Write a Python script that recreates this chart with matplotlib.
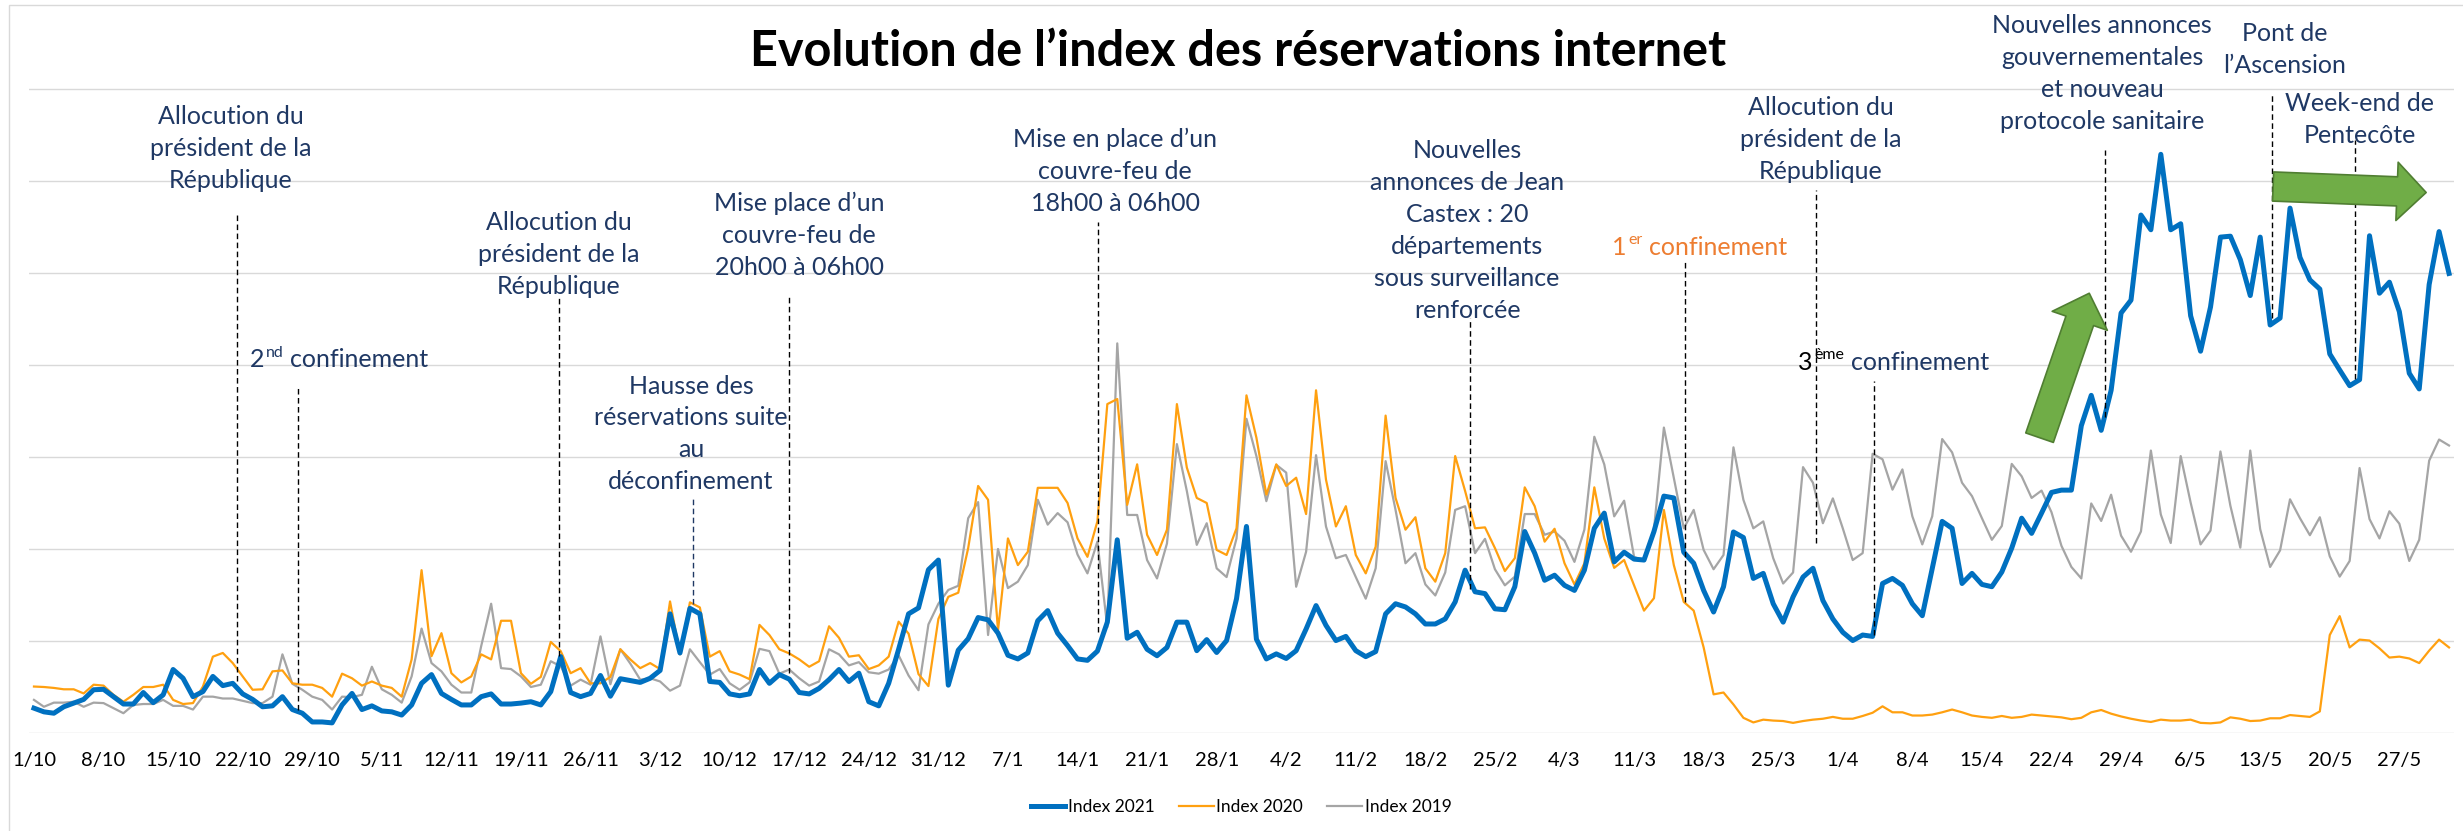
import matplotlib
matplotlib.use("Agg")
import matplotlib.pyplot as plt
from matplotlib.patches import FancyArrowPatch, ArrowStyle, Rectangle
from matplotlib.lines import Line2D
import numpy as np
import pandas as pd

plt.rcParams["font.family"] = ["Lato", "DejaVu Sans"]

START = "2020-10-01"

# daily index values (1/10 -> 1/6)
index_2021 = [
    5.4, 4.6, 4.3, 5.7, 6.5, 7.3, 9.4, 9.5, 7.9, 6.3,
    6.3, 8.8, 6.6, 8.3, 13.8, 11.9, 7.9, 9.0, 12.3, 10.3,
    10.8, 8.5, 7.3, 5.7, 5.9, 7.9, 5.1, 4.3, 2.4, 2.4,
    2.2, 6.1, 8.6, 5.1, 5.9, 4.8, 4.6, 3.9, 6.1, 10.8,
    12.7, 8.6, 7.3, 6.1, 6.1, 7.9, 8.5, 6.3, 6.3, 6.5,
    6.8, 6.1, 9.0, 16.6, 8.8, 7.9, 8.6, 12.5, 8.0, 11.8,
    11.4, 11.0, 11.9, 13.6, 25.9, 17.4, 27.1, 25.9, 11.2, 11.0,
    8.5, 8.1, 8.5, 13.8, 10.8, 12.7, 11.7, 8.8, 8.5, 9.7,
    11.6, 13.8, 11.2, 13.0, 6.8, 5.9, 10.8, 18.2, 25.9, 27.2,
    35.5, 37.6, 10.4, 18.0, 20.5, 25.1, 24.6, 21.7, 16.9, 16.1,
    17.4, 24.4, 26.6, 21.7, 19.0, 16.1, 15.8, 17.8, 24.1, 42.0,
    20.6, 21.9, 18.2, 16.8, 18.6, 24.1, 24.1, 17.9, 20.3, 17.5,
    20.1, 29.2, 44.9, 20.4, 16.1, 17.2, 16.2, 17.9, 22.6, 27.7,
    23.4, 20.1, 21.0, 17.9, 16.6, 17.7, 25.9, 28.1, 27.4, 25.9,
    23.7, 23.7, 24.8, 28.5, 35.4, 30.7, 30.3, 27.0, 26.8, 31.8,
    43.8, 39.1, 33.2, 34.3, 32.1, 31.0, 35.4, 44.5, 47.8, 37.2,
    39.3, 37.8, 37.6, 43.8, 51.5, 51.1, 39.3, 36.9, 31.0, 26.3,
    31.8, 43.7, 42.5, 33.6, 34.7, 28.1, 24.1, 29.6, 33.9, 35.8,
    28.8, 24.8, 21.9, 20.1, 21.3, 21.0, 32.5, 33.6, 32.1, 28.1,
    25.5, 35.8, 46.0, 44.5, 32.5, 34.7, 32.3, 31.8, 35.0, 40.2,
    46.7, 43.4, 47.8, 52.3, 52.8, 52.8, 66.8, 73.4, 65.8, 74.5,
    91.3, 94.1, 112.6, 109.4, 125.8, 109.4, 110.7, 90.7, 83.0, 92.6,
    107.8, 108.0, 102.9, 95.1, 107.8, 88.7, 90.2, 114.1, 103.4, 98.5,
    96.5, 82.4, 78.9, 75.5, 76.8, 108.1, 95.6, 98.0, 91.6, 78.2,
    74.8, 97.5, 109.0, 99.9,
]

index_2020 = [
    10.1, 10.0, 9.8, 9.5, 9.5, 8.6, 10.5, 10.3, 8.3, 6.8,
    8.3, 10.0, 10.0, 10.5, 7.2, 6.3, 6.5, 10.1, 16.6, 17.4,
    15.2, 12.3, 9.4, 9.5, 13.4, 13.6, 10.8, 10.5, 10.5, 9.8,
    7.9, 12.9, 11.9, 10.3, 11.2, 10.3, 9.8, 7.9, 16.0, 35.4,
    16.7, 21.7, 13.0, 11.0, 12.3, 17.1, 16.0, 24.4, 24.4, 13.0,
    10.7, 12.2, 19.8, 17.8, 13.0, 14.1, 10.8, 10.8, 12.2, 18.2,
    16.0, 14.1, 15.2, 13.9, 28.6, 17.1, 28.4, 27.3, 16.6, 17.8,
    13.4, 12.7, 11.7, 23.5, 21.3, 18.2, 17.3, 16.0, 14.4, 15.6,
    23.2, 20.7, 16.6, 16.9, 13.9, 14.7, 16.6, 24.2, 21.6, 12.8,
    10.2, 24.8, 29.6, 30.5, 40.2, 53.7, 50.7, 22.3, 42.3, 36.5,
    39.4, 53.3, 53.3, 53.3, 50.0, 42.3, 38.3, 46.0, 71.5, 72.6,
    49.6, 58.4, 43.1, 38.7, 44.2, 71.5, 57.7, 51.1, 50.0, 39.8,
    38.7, 44.5, 73.4, 64.2, 51.8, 58.4, 53.7, 55.5, 47.6, 74.5,
    55.1, 44.9, 49.3, 38.7, 34.7, 40.5, 69.0, 51.1, 44.2, 46.9,
    35.8, 32.9, 39.1, 60.2, 52.6, 44.5, 44.7, 40.2, 35.2, 38.0,
    53.4, 49.3, 41.6, 44.4, 36.9, 32.3, 36.9, 53.4, 42.3, 35.9,
    37.6, 32.1, 26.6, 29.3, 48.5, 36.5, 28.5, 26.6, 18.6, 8.4,
    8.8, 6.2, 3.3, 2.3, 2.9, 2.7, 2.6, 2.2, 2.6, 2.9,
    3.1, 3.5, 3.1, 3.1, 3.7, 4.4, 5.8, 4.5, 4.5, 3.8,
    3.8, 4.0, 4.5, 5.1, 4.5, 3.8, 3.5, 3.3, 3.7, 3.3,
    3.5, 4.0, 3.8, 3.6, 3.4, 3.0, 3.3, 4.5, 5.0, 4.2,
    3.6, 3.1, 2.7, 2.4, 2.9, 2.7, 2.7, 2.9, 2.2, 2.1,
    2.3, 3.4, 3.1, 2.6, 2.7, 3.2, 3.2, 3.9, 3.7, 3.5,
    4.7, 21.3, 25.4, 18.6, 20.3, 20.1, 18.4, 16.4, 16.6, 16.2,
    15.2, 17.9, 20.3, 18.6,
]

index_2019 = [
    7.2, 5.7, 6.6, 6.6, 6.8, 5.7, 6.6, 6.5, 5.4, 4.3,
    6.1, 6.3, 6.3, 7.2, 5.9, 5.9, 5.1, 7.9, 7.9, 7.5,
    7.5, 7.0, 6.5, 6.5, 7.9, 17.1, 10.7, 9.4, 7.9, 7.2,
    5.1, 7.9, 7.8, 8.3, 14.4, 9.5, 8.3, 6.6, 12.3, 22.7,
    15.2, 13.4, 10.5, 8.8, 8.8, 18.9, 28.1, 14.1, 13.9, 12.3,
    10.0, 10.5, 15.6, 14.5, 10.3, 11.6, 10.5, 21.0, 10.6, 18.2,
    15.1, 11.6, 11.9, 11.2, 9.2, 10.3, 18.2, 15.4, 12.7, 13.9,
    10.8, 9.4, 11.0, 18.3, 17.8, 12.9, 13.8, 11.9, 10.3, 11.2,
    18.2, 17.1, 14.7, 15.4, 13.2, 12.9, 13.8, 16.9, 12.5, 9.3,
    23.6, 28.1, 31.1, 32.0, 46.7, 50.2, 21.3, 40.0, 31.5, 32.9,
    36.5, 50.7, 45.3, 47.8, 45.8, 38.8, 34.7, 41.6, 23.0, 84.7,
    47.4, 47.4, 37.6, 33.6, 41.2, 62.8, 52.6, 40.9, 45.6, 35.8,
    33.9, 42.3, 68.3, 60.2, 50.4, 58.3, 56.6, 31.8, 39.4, 60.4,
    44.9, 38.0, 38.7, 33.9, 29.2, 35.8, 59.1, 48.5, 36.9, 39.1,
    32.3, 29.9, 34.9, 48.5, 49.3, 39.1, 42.2, 35.6, 32.1, 34.0,
    47.6, 47.6, 43.1, 43.8, 41.8, 37.2, 44.2, 64.4, 58.4, 47.1,
    50.5, 38.3, 37.4, 44.2, 66.4, 55.5, 44.5, 48.5, 39.8, 35.6,
    38.7, 62.1, 50.7, 44.5, 46.0, 38.0, 32.5, 34.9, 57.8, 54.4,
    45.6, 51.0, 44.5, 37.6, 39.1, 60.7, 59.5, 52.9, 57.3, 47.1,
    41.0, 47.1, 63.9, 61.0, 54.4, 51.5, 46.7, 42.0, 45.0, 58.5,
    55.8, 51.1, 52.7, 48.0, 40.7, 36.1, 33.6, 49.9, 46.1, 51.8,
    42.9, 39.4, 43.8, 61.4, 47.5, 41.3, 60.2, 50.1, 41.0, 44.0,
    61.2, 49.4, 40.3, 61.4, 44.3, 36.1, 39.7, 50.8, 46.7, 43.0,
    46.9, 38.4, 34.0, 37.4, 57.6, 46.5, 42.3, 48.2, 45.5, 37.4,
    42.0, 59.2, 63.8, 62.5,
]

NAVY = "#1F3864"
BLUE = "#0070C0"
ORANGE = "#FFA010"
GREY = "#A5A5A5"

# event annotations: (day position, centre of first line, lines)
notes = [
    (19.8, 135.0, ["Allocution du", "président de la", "République"]),
    (52.8, 112.0, ["Allocution du", "président de la", "République"]),
    (77.0, 116.0, ["Mise place d\u2019un", "couvre-feu de", "20h00 à 06h00"]),
    (66.1, 76.4, ["Hausse des", "réservations suite", "au", "déconfinement"]),
    (108.8, 130.0, ["Mise en place d\u2019un", "couvre-feu de", "18h00 à 06h00"]),
    (144.2, 127.5, ["Nouvelles", "annonces de Jean", "Castex : 20", "départements",
                    "sous surveillance", "renforcée"]),
    (179.8, 137.0, ["Allocution du", "président de la", "République"]),
    (208.1, 154.8, ["Nouvelles annonces", "gouvernementales", "et nouveau",
                    "protocole sanitaire"]),
    (226.5, 153.0, ["Pont de", "l\u2019Ascension"]),
    (234.0, 137.9, ["Week-end de", "Pentecôte"]),
]

# dashed markers: (day position, top, bottom, colour)
markers = [
    (20.45, 113.0, 11.2, "black"),
    (26.6, 75.7, 5.0, "black"),
    (52.8, 94.7, 16.7, "black"),
    (66.3, 50.9, 28.0, NAVY),
    (76.0, 95.4, 13.0, "black"),
    (107.1, 111.0, 21.9, "black"),
    (144.5, 90.3, 31.4, "black"),
    (166.1, 103.0, 28.5, "black"),
    (179.3, 118.0, 41.2, "black"),
    (185.1, 76.5, 21.2, "black"),
    (208.4, 126.7, 68.7, "black"),
    (225.2, 139.0, 90.2, "black"),
    (233.5, 129.0, 77.0, "black"),
]

# green block arrows: (tail, tip)
arrows = [
    ((201.8, 64.2), (206.8, 95.6)),
    ((225.3, 118.8), (240.7, 117.5)),
]

dates = pd.date_range(START, periods=len(index_2021), freq="D")
day = np.arange(len(dates))
tick_pos = day[::7]
tick_labels = [f"{d.day}/{d.month}" for d in dates[::7]]

W, H = 2463, 831
fig = plt.figure(figsize=(W / 100, H / 100), dpi=100)
ax = fig.add_axes([29 / W, (H - 733) / H, 2425 / W, 728 / H])

ax.plot(day, index_2019, color=GREY, lw=1.6, zorder=3)
ax.plot(day, index_2020, color=ORANGE, lw=1.6, zorder=3)
ax.plot(day, index_2021, color=BLUE, lw=3.6, zorder=4, solid_joinstyle="round")

ax.set_xlim(-0.5, len(day) - 0.5)
ax.set_ylim(0, 728 / 4.6)
ax.set_yticks(range(0, 141, 20))
ax.set_yticklabels([])
ax.set_xticks(tick_pos)
ax.set_xticklabels(tick_labels, fontsize=14.5)
ax.tick_params(axis="both", length=0)
ax.tick_params(axis="x", pad=14)
ax.grid(axis="y", color="#D9D9D9", lw=1.0)
ax.set_axisbelow(True)
for s in ax.spines.values():
    s.set_visible(False)

step = 6.95
for x, y0, lines in notes:
    for i, line in enumerate(lines):
        ax.text(x, y0 - i * step - 2.6, line, ha="center", va="baseline",
                fontsize=18, color=NAVY, zorder=5)

for x, top, bottom, c in markers:
    ax.plot([x, x], [bottom, top], color=c, lw=1.0, ls=(0, (4, 2.5)), zorder=5)


def super_label(x, y, base, sup, rest, c_base, c_rest):
    t = ax.text(x, y, base, ha="left", va="bottom", fontsize=18, color=c_base, zorder=5)
    s = ax.annotate(sup, xy=(1, 1), xycoords=t, xytext=(1, 2), textcoords="offset points",
                    ha="left", va="top", fontsize=11.5, color=c_base, zorder=5)
    ax.annotate(rest, xy=(1, 0), xycoords=(s, t), xytext=(5, 0), textcoords="offset points",
                ha="left", va="bottom", fontsize=18, color=c_rest, zorder=5)


super_label(21.7, 78.6, "2", "nd", "confinement", NAVY, NAVY)
super_label(158.8, 103.0, "1", "er", "confinement", "#ED7D31", "#ED7D31")
super_label(177.5, 78.0, "3", "ème", "confinement", "black", NAVY)

style = ArrowStyle.Simple(head_length=21, head_width=42, tail_width=21)
for tail, tip in arrows:
    ax.add_patch(FancyArrowPatch(tail, tip, arrowstyle=style, mutation_scale=1,
                                 shrinkA=0, shrinkB=0, fc="#70AD47", ec="#507E32",
                                 lw=1.2, zorder=6))

fig.text(1238 / W, 1 - 52 / H, "Evolution de l\u2019index des réservations internet",
         ha="center", va="center", fontsize=35, fontweight="bold")

handles = [
    Line2D([], [], color=BLUE, lw=3.6),
    Line2D([], [], color=ORANGE, lw=1.6),
    Line2D([], [], color=GREY, lw=1.6),
]
ax.legend(handles, ["Index 2021", "Index 2020", "Index 2019"], loc="center",
          bbox_to_anchor=(1241 / W, 24.3 / H), bbox_transform=fig.transFigure,
          ncol=3, frameon=False, fontsize=12.5, handlelength=2.0,
          handletextpad=0.15, columnspacing=1.4)

# light frame: only the left and top edges fall inside the picture
fig.patches.append(Rectangle((9 / W, -10 / H), (W + 20) / W, (H + 5) / H,
                             transform=fig.transFigure, fill=False,
                             ec="#D9D9D9", lw=1.0))

fig.savefig("out.png", dpi=100)
